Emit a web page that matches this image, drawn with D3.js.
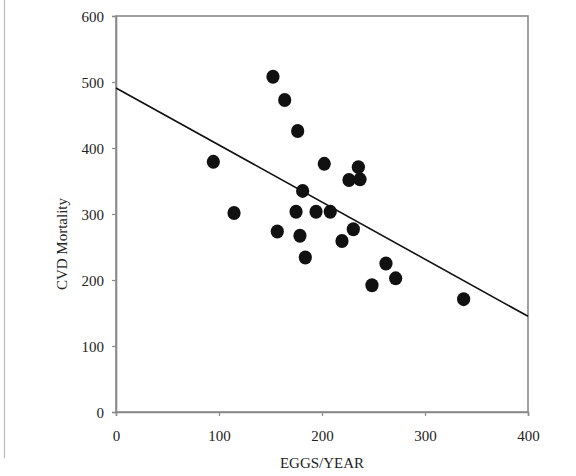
<!DOCTYPE html>
<html>
<head>
<meta charset="utf-8">
<script src="https://cdn.jsdelivr.net/npm/d3@7"></script>
<style>
html,body{margin:0;padding:0;background:#fff;}
svg{display:block;}
text{font-family:"Liberation Serif","DejaVu Serif",serif;fill:#222;}
</style>
</head>
<body>
<svg id="chart" width="576" height="476"></svg>
<script>
const eggs = [94.5,114.6,152.4,156.6,163.8,174.8,176.4,178.6,181.2,183.8,194.2,202.2,208,219.4,226.2,230.4,235.3,236.9,248.5,262.1,271.5,337.5];
const mortality = [379,301.5,508,273.5,472.7,303.5,425.8,267,335,234,303.5,376,303.5,259,351.5,277,371,352.5,192,225,202.5,171];
const fitX = [0,400];
const fitY = [491,145];
const xTicks = [0,100,200,300,400];
const yTicks = [0,100,200,300,400,500,600];
const xTitle = "EGGS/YEAR";
const yTitle = "CVD Mortality";

const svg = d3.select("#chart");
const L=116, R=528, T=16, B=412;
const x = d3.scaleLinear().domain([0,400]).range([L,R]);
const y = d3.scaleLinear().domain([0,600]).range([B,T]);

// scan edge artifact
svg.append("line").attr("x1",4.5).attr("x2",4.5).attr("y1",0).attr("y2",458)
  .attr("stroke","#bbb").attr("stroke-width",1.2);

// frame
svg.append("rect").attr("x",L).attr("y",T).attr("width",R-L).attr("height",B-T)
  .attr("fill","none").attr("stroke","#8a8a8a").attr("stroke-width",1.6);

const xAxis = svg.append("g").attr("transform",`translate(0,${B})`)
  .call(d3.axisBottom(x).tickValues(xTicks).tickSize(4).tickPadding(14).tickFormat(d3.format("d")));
const yAxis = svg.append("g").attr("transform",`translate(${L},0)`)
  .call(d3.axisLeft(y).tickValues(yTicks).tickSize(4).tickPadding(8).tickFormat(d3.format("d")));
[xAxis,yAxis].forEach(g=>{
  g.select(".domain").attr("stroke","#8a8a8a").attr("stroke-width",1.6);
  g.selectAll(".tick line").attr("stroke","#8a8a8a").attr("stroke-width",1.2);
  g.selectAll(".tick text").style("font-family","'Liberation Serif',serif").style("font-size","15px").attr("fill","#222");
});
yAxis.selectAll(".tick text").attr("dy","0.35em");

// regression line
svg.append("line")
  .attr("x1",x(fitX[0])).attr("y1",y(fitY[0]))
  .attr("x2",x(fitX[1])).attr("y2",y(fitY[1]))
  .attr("stroke","#111").attr("stroke-width",1.6);

// points
svg.append("g").selectAll("ellipse").data(eggs.map((e,i)=>[e,mortality[i]]))
  .join("ellipse")
  .attr("cx",d=>x(d[0])).attr("cy",d=>y(d[1]))
  .attr("rx",6.6).attr("ry",7)
  .attr("fill","#111");

svg.append("text").attr("x",(L+R)/2).attr("y",468).attr("text-anchor","middle")
  .style("font-size","15px").text(xTitle);
svg.append("text").attr("transform",`translate(67,${(T+B)/2+30}) rotate(-90)`)
  .attr("text-anchor","middle").style("font-size","15px").text(yTitle);
</script>
</body>
</html>
